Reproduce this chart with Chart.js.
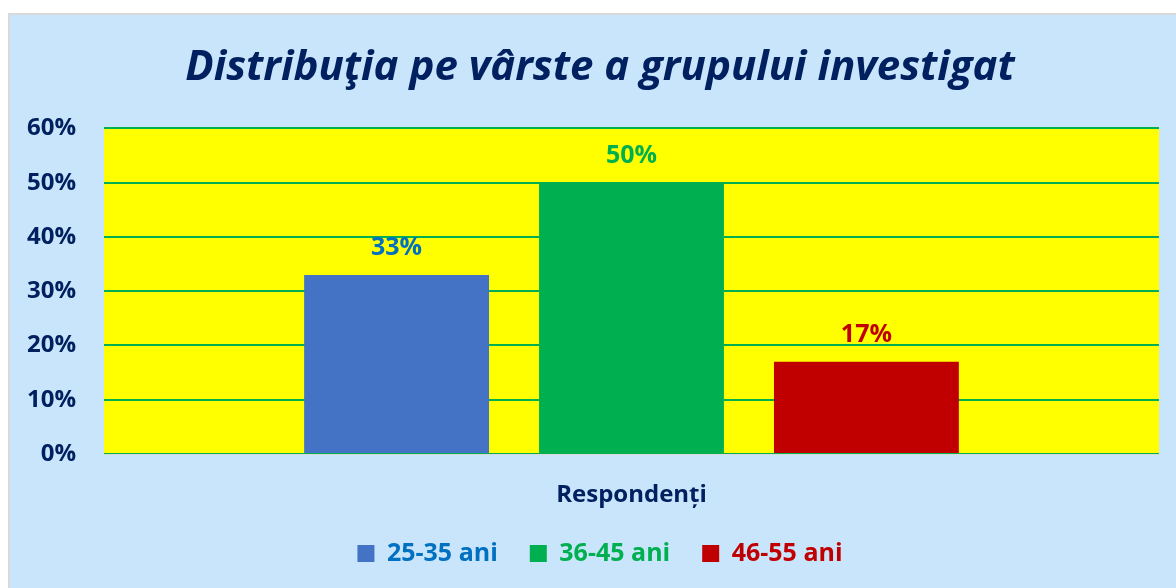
<!DOCTYPE html>
<html>
<head>
<meta charset="utf-8">
<script src="https://cdn.jsdelivr.net/npm/chart.js@4/dist/chart.umd.min.js"></script>
<style>
body { margin: 0; background: #fff; overflow: hidden; }
#box { position: absolute; left: 8px; top: 13px; width: 1172px; height: 577px; border: 2px solid #d9d9d9; background: #c8e5fb; box-sizing: border-box; overflow: hidden; }
#box canvas { position: absolute; left: 0; top: 0; }
</style>
</head>
<body>
<div id="box"><canvas id="c" width="1180" height="573"></canvas></div>
<script>
var categories = ['Respondenți']
var seriesNames = ['25-35 ani', '36-45 ani', '46-55 ani']
var seriesValues = [[33], [50], [17]]
var barColors = ['#4472c4', '#00b050', '#c00000']
var textColors = ['#0070c0', '#00b050', '#c00000']
var yTicks = [0, 10, 20, 30, 40, 50, 60]

var navy = '#002060'
var fontFamily = '"Open Sans", "Noto Sans", sans-serif'

var datasets = seriesNames.map(function (name, i) {
	return {
		label: name,
		data: seriesValues[i],
		backgroundColor: barColors[i],
		categoryPercentage: 0.668,
		barPercentage: 0.787
	}
})

// yellow plot area
var plotBg = {
	id: 'plotBg',
	beforeDraw: function (chart) {
		var a = chart.chartArea, ctx = chart.ctx
		ctx.save()
		ctx.fillStyle = '#ffff00'
		ctx.fillRect(a.left, a.top, a.right - a.left, a.bottom - a.top)
		ctx.restore()
	}
}

// value labels above bars
var valueLabels = {
	id: 'valueLabels',
	afterDatasetsDraw: function (chart) {
		var ctx = chart.ctx
		ctx.save()
		ctx.font = 'bold 25px ' + fontFamily
		ctx.textAlign = 'center'
		ctx.textBaseline = 'middle'
		chart.data.datasets.forEach(function (ds, i) {
			chart.getDatasetMeta(i).data.forEach(function (bar, j) {
				ctx.fillStyle = textColors[i]
				ctx.fillText(ds.data[j] + '%', bar.x, bar.y - 27)
			})
		})
		ctx.restore()
	}
}

var chart = new Chart(document.getElementById('c'), {
	type: 'bar',
	data: { labels: categories, datasets: datasets },
	plugins: [plotBg, valueLabels],
	options: {
		responsive: false,
		animation: false,
		layout: { padding: { left: 0, right: 0, top: 0, bottom: 12 } },
		plugins: {
			title: {
				display: true,
				text: 'Distribuţia pe vârste a grupului investigat',
				color: navy,
				font: { family: fontFamily, size: 42, style: 'italic', weight: 'bold' },
				padding: { top: 28, bottom: 35 }
			},
			legend: {
				position: 'bottom',
				labels: {
					font: { family: fontFamily, size: 25, weight: 'bold' },
					boxWidth: 17,
					boxHeight: 17,
					padding: 32,
					generateLabels: function (ch) {
						return ch.data.datasets.map(function (ds, i) {
							return {
								text: ds.label,
								fillStyle: barColors[i],
								strokeStyle: barColors[i],
								lineWidth: 0,
								fontColor: textColors[i],
								datasetIndex: i
							}
						})
					}
				}
			},
			tooltip: { enabled: false }
		},
		scales: {
			x: {
				grid: { display: false, drawTicks: false },
				border: { color: '#d9d9d9', width: 1 },
				afterFit: function (s) { s.height = 55 },
				ticks: { color: navy, padding: 27, font: { family: fontFamily, size: 24, weight: 'bold' } }
			},
			y: {
				min: 0,
				max: 60,
				afterBuildTicks: function (scale) {
					scale.ticks = yTicks.map(function (v) { return { value: v } })
				},
				afterFit: function (s) { s.width = 94 },
				grid: { color: '#00b050', lineWidth: 2, drawTicks: false },
				border: { display: false },
				ticks: {
					color: navy,
					padding: 28,
					font: { family: fontFamily, size: 24, weight: 'bold' },
					callback: function (v) { return v + '%' }
				}
			},
			// empty right-hand margin
			yRight: {
				position: 'right',
				grid: { display: false, drawTicks: false },
				border: { display: false },
				ticks: { display: false },
				afterFit: function (s) { s.width = 31 }
			}
		}
	}
})
</script>
</body>
</html>
